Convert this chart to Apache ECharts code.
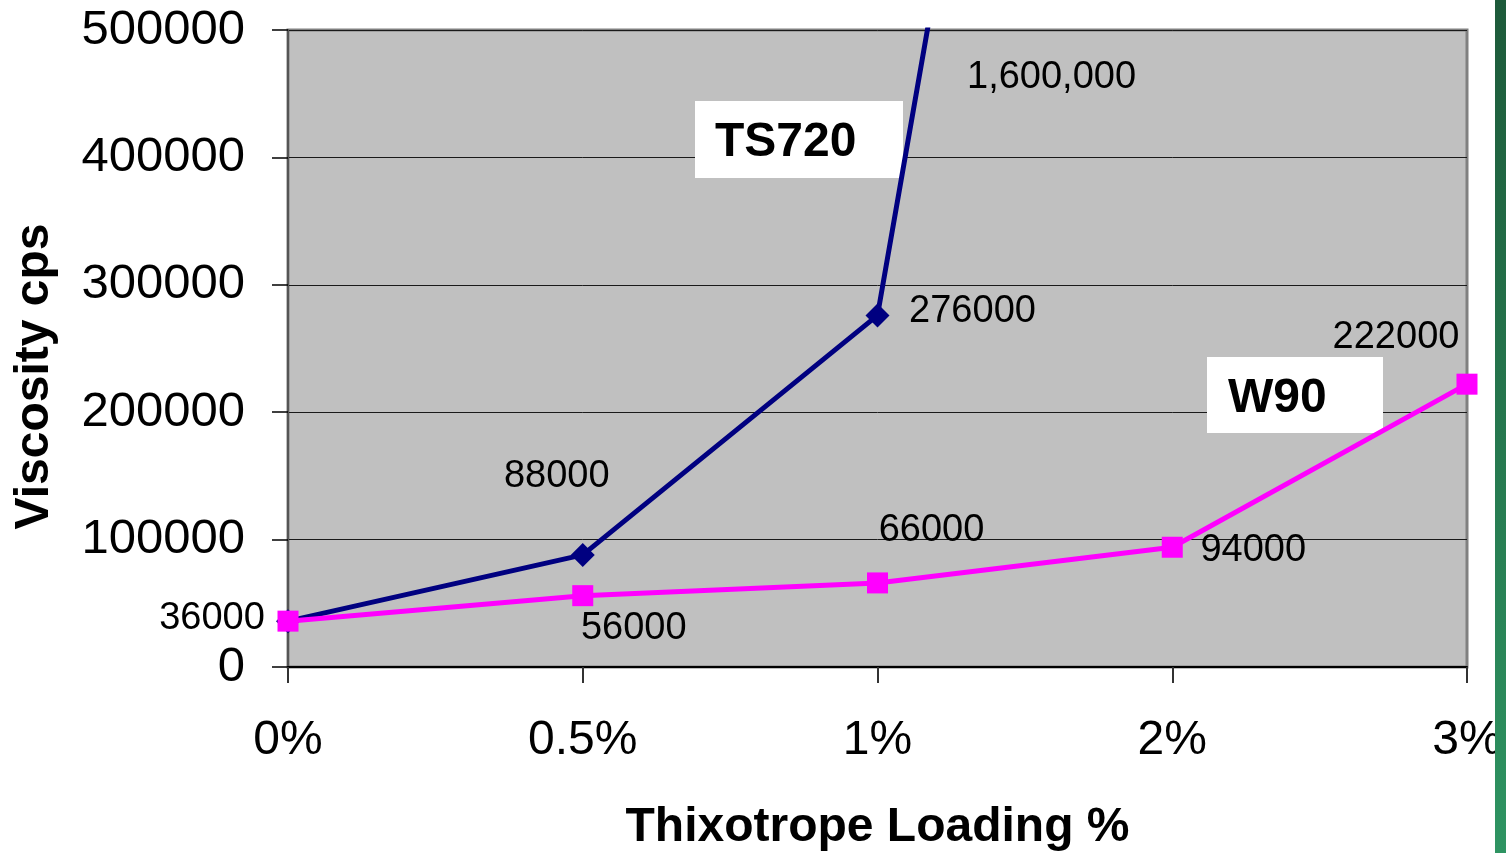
<!DOCTYPE html>
<html>
<head>
<meta charset="utf-8">
<script src="https://cdn.jsdelivr.net/npm/echarts@6/dist/echarts.min.js"></script>
<style>
html,body{margin:0;padding:0;background:#fff;}
#c{width:1506px;height:853px;}
</style>
</head>
<body>
<div id="c"></div>
<script>
const categories = ['0%', '0.5%', '1%', '2%', '3%'];
const ts720 = [36000, 88000, 276000, 1600000, null];
const w90 = [36000, 56000, 66000, 94000, 222000];
const yMin = 0, yMax = 500000, yStep = 100000;
const seriesNames = ['TS720', 'W90'];
const xTitle = 'Thixotrope Loading %';
const yTitle = 'Viscosity cps';

const FONT = '"Liberation Sans", Arial, sans-serif';
// label placement (pixels relative to each point)
const tsOffsets = [null, [-26, -78], [95, -4], null, null];
const w90Offsets = [[-76, -3], [51, 33], [54, -52], [81, 3], [-71, -47]];

function buildData(vals, offsets) {
  return vals.map((v, i) => {
    const o = offsets[i];
    return {
      value: v,
      label: o ? { show: true, position: 'inside', offset: o } : { show: false }
    };
  });
}

const chart = echarts.init(document.getElementById('c'));
chart.setOption({
  animation: false,
  backgroundColor: '#ffffff',
  grid: {
    left: 288, top: 30, right: 39, bottom: 186,
    outerBoundsMode: 'none', containLabel: false,
    show: true, backgroundColor: '#c0c0c0', borderColor: '#808080', borderWidth: 3
  },
  xAxis: {
    type: 'category',
    data: categories,
    boundaryGap: false,
    axisLine: { lineStyle: { color: '#000', width: 2 } },
    axisTick: { show: true, alignWithLabel: true, length: 16, lineStyle: { color: '#333', width: 2 } },
    axisLabel: { fontSize: 48, color: '#000', fontFamily: FONT, margin: 50 },
    splitLine: { show: false },
    name: xTitle,
    nameLocation: 'middle',
    nameGap: 137,
    nameTextStyle: { fontSize: 48, fontWeight: 'bold', color: '#000', fontFamily: FONT }
  },
  yAxis: {
    type: 'value',
    min: yMin, max: yMax, interval: yStep,
    axisLine: { show: true, lineStyle: { color: '#555', width: 2 } },
    axisTick: { show: true, length: 16, lineStyle: { color: '#000', width: 1.5 } },
    axisLabel: { fontSize: 49, color: '#000', fontFamily: FONT, margin: 43, formatter: v => String(v) },
    splitLine: { show: true, lineStyle: { color: '#1a1a1a', width: 1 } },
    name: yTitle,
    nameLocation: 'middle',
    nameRotate: 90,
    nameGap: 229,
    nameTextStyle: { fontSize: 48, fontWeight: 'bold', color: '#000', fontFamily: FONT, padding: [0, 56, 0, 0] }
  },
  series: [
    {
      name: seriesNames[0], type: 'line', z: 3, clip: true,
      data: buildData(ts720, tsOffsets),
      symbol: 'diamond', symbolSize: 24,
      lineStyle: { color: '#000080', width: 5 },
      itemStyle: { color: '#000080' },
      label: { fontSize: 38, color: '#000', fontFamily: FONT }
    },
    {
      name: seriesNames[1], type: 'line', z: 4, clip: true,
      data: buildData(w90, w90Offsets),
      symbol: 'rect', symbolSize: 21,
      lineStyle: { color: '#ff00ff', width: 5 },
      itemStyle: { color: '#ff00ff' },
      label: { fontSize: 38, color: '#000', fontFamily: FONT }
    }
  ],
  graphic: [
    { type: 'rect', z: 1, shape: { x: 695, y: 101, width: 208, height: 77 }, style: { fill: '#fff' } },
    { type: 'text', z: 2, left: 715, top: 119, style: { text: seriesNames[0], font: 'bold 48px ' + FONT, fill: '#000' } },
    { type: 'rect', z: 1, shape: { x: 1207, y: 357, width: 176, height: 76 }, style: { fill: '#fff' } },
    { type: 'text', z: 2, left: 1228, top: 375, style: { text: seriesNames[1], font: 'bold 48px ' + FONT, fill: '#000' } },
    { type: 'text', z: 5, left: 967, top: 59, style: { text: ts720[3].toLocaleString('en-US'), font: '38px ' + FONT, fill: '#000' } },
    { type: 'rect', z: 100, shape: { x: 1495, y: 0, width: 11, height: 853 },
      style: { fill: new echarts.graphic.LinearGradient(0, 0, 0, 1, [
        { offset: 0, color: '#1d5a3a' }, { offset: 1, color: '#2e9462' }
      ]) } }
  ]
});
</script>
</body>
</html>
